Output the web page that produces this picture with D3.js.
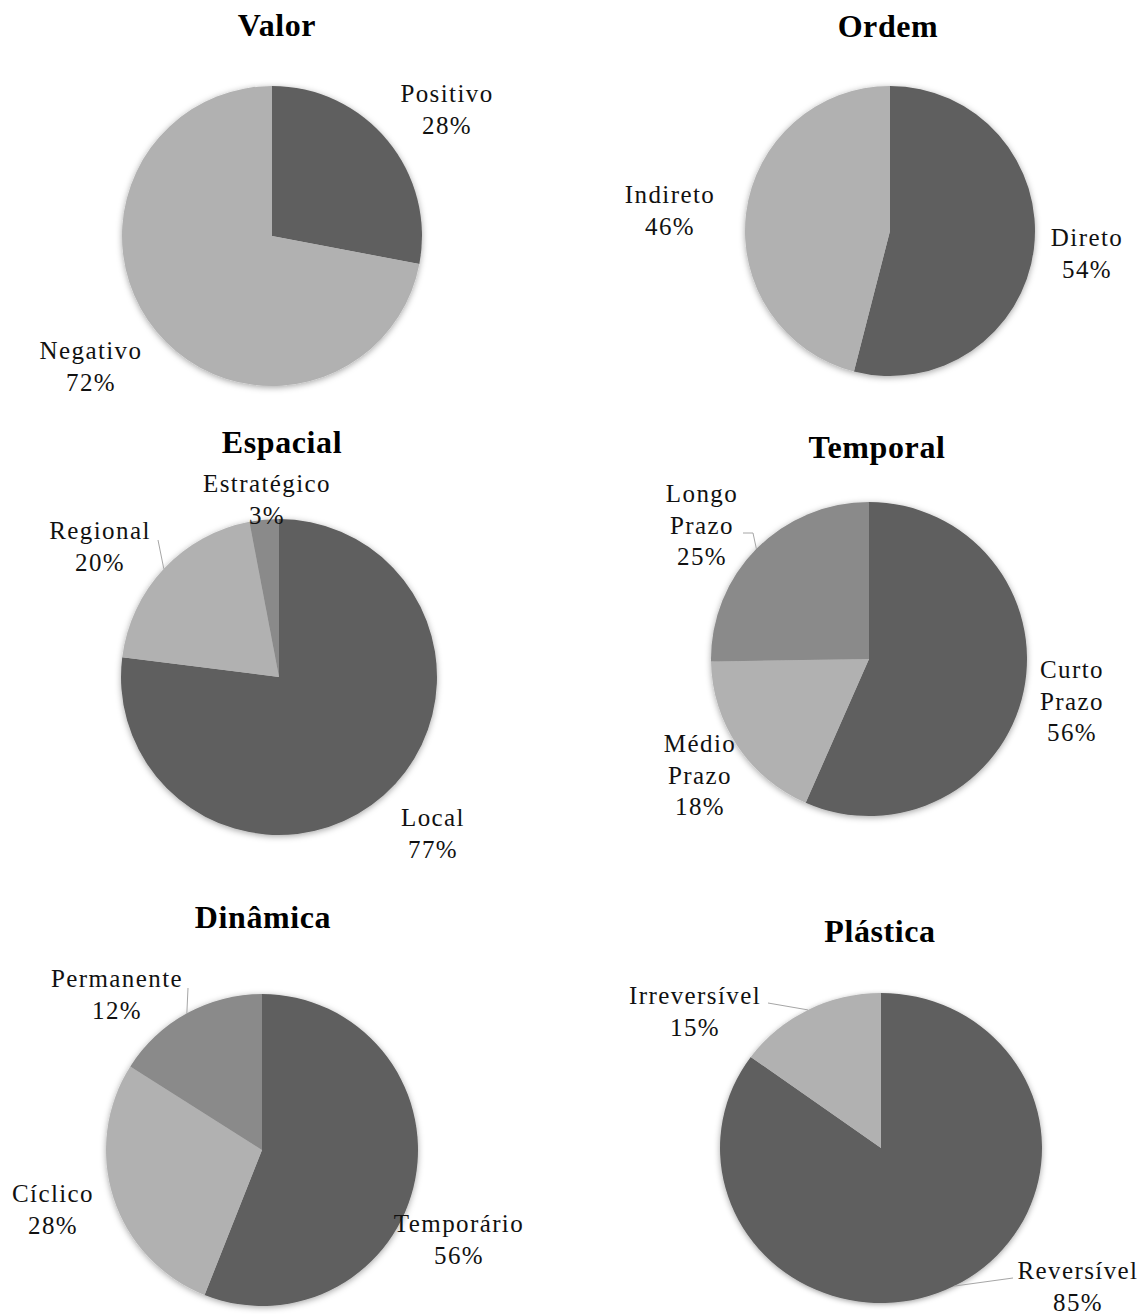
<!DOCTYPE html>
<html>
<head>
<meta charset="utf-8">
<script src="https://cdn.jsdelivr.net/npm/d3@7"></script>
<style>
  html, body { margin: 0; padding: 0; background: #ffffff; }
  svg { display: block; }
</style>
</head>
<body>
<svg id="chart" width="1148" height="1314"></svg>
<script>
// ---------- DATA ----------
const chartTitles = ["Valor", "Ordem", "Espacial", "Temporal", "Dinâmica", "Plástica"];

const valorCategories = ["Positivo", "Negativo"];
const valorValues = [28, 72];
const valorLabels = ["28%", "72%"];

const ordemCategories = ["Direto", "Indireto"];
const ordemValues = [54, 46];
const ordemLabels = ["54%", "46%"];

const espacialCategories = ["Local", "Regional", "Estratégico"];
const espacialValues = [77, 20, 3];
const espacialLabels = ["77%", "20%", "3%"];

const temporalCategories = ["Curto Prazo", "Médio Prazo", "Longo Prazo"];
const temporalValues = [56, 18, 25];
const temporalLabels = ["56%", "18%", "25%"];

const dinamicaCategories = ["Temporário", "Cíclico", "Permanente"];
const dinamicaValues = [56, 28, 16];
const dinamicaLabels = ["56%", "28%", "12%"];

const plasticaCategories = ["Reversível", "Irreversível"];
const plasticaValues = [85, 15];
const plasticaLabels = ["85%", "15%"];

// ---------- STYLE / LAYOUT ----------
const DARK = "#5f5f5f", LIGHT = "#b1b1b1", MID = "#8a8a8a";

const layout = [
  { cx: 272, cy: 236, rx: 150, ry: 150, titleX: 277, titleY: 36, colors: [DARK, LIGHT],
    labels: [[175, -142], [-181, 115]], leaders: [null, null] },
  { cx: 890, cy: 231, rx: 145, ry: 145, titleX: 888, titleY: 37, colors: [DARK, LIGHT],
    labels: [[197, 7], [-220, -36]], leaders: [null, null] },
  { cx: 279, cy: 677, rx: 158, ry: 158, titleX: 282, titleY: 453, colors: [DARK, LIGHT, MID],
    labels: [[154, 141], [-179, -146], [-12, -193]], leaders: [null, [[-121, -137]], null] },
  { cx: 869, cy: 659, rx: 158, ry: 157, titleX: 877, titleY: 458, colors: [DARK, LIGHT, MID],
    labels: [[203, 11], [-169, 85], [-167, -165]], leaders: [null, null, [[-126, -126], [-116, -126]]] },
  { cx: 262, cy: 1150, rx: 156, ry: 156, titleX: 263, titleY: 928, colors: [DARK, LIGHT, MID],
    labels: [[197, 74], [-209, 44], [-145, -171]], leaders: [null, null, [[-74, -162]]] },
  { cx: 881, cy: 1148, rx: 161, ry: 155, titleX: 880, titleY: 942, colors: [DARK, LIGHT],
    labels: [[197, 123], [-186, -152]], leaders: [[[132, 130]], [[-113, -145]]] }
];

const charts = [
  { cats: valorCategories, vals: valorValues, pcts: valorLabels },
  { cats: ordemCategories, vals: ordemValues, pcts: ordemLabels },
  { cats: espacialCategories, vals: espacialValues, pcts: espacialLabels },
  { cats: temporalCategories, vals: temporalValues, pcts: temporalLabels },
  { cats: dinamicaCategories, vals: dinamicaValues, pcts: dinamicaLabels },
  { cats: plasticaCategories, vals: plasticaValues, pcts: plasticaLabels }
];

// ---------- DRAW ----------
const svg = d3.select("#chart");
const defs = svg.append("defs");
const filt = defs.append("filter").attr("id", "shadow")
  .attr("x", "-20%").attr("y", "-20%").attr("width", "140%").attr("height", "140%");
filt.append("feDropShadow").attr("dx", 0).attr("dy", 1.5)
  .attr("stdDeviation", 3).attr("flood-color", "#000").attr("flood-opacity", 0.35);

const pie = d3.pie().sort(null).value(d => d);
const lineH = 31.5;
const FONT = "'Liberation Serif', 'Times New Roman', serif";

charts.forEach((c, i) => {
  const L = layout[i];
  const g = svg.append("g");

  // title
  g.append("text")
    .attr("x", L.titleX).attr("y", L.titleY)
    .attr("text-anchor", "middle")
    .attr("font-family", FONT)
    .attr("font-weight", "bold")
    .attr("font-size", 32)
    .attr("letter-spacing", 0.6)
    .attr("fill", "#000")
    .text(chartTitles[i]);

  const arcs = pie(c.vals);
  const arc = d3.arc().innerRadius(0).outerRadius(L.rx);
  const pg = g.append("g")
    .attr("transform", `translate(${L.cx},${L.cy}) scale(1,${L.ry / L.rx})`)
    .attr("filter", "url(#shadow)");
  pg.selectAll("path").data(arcs).join("path")
    .attr("d", arc)
    .attr("fill", (d, j) => L.colors[j]);

  // leaders
  arcs.forEach((d, j) => {
    const pts = L.leaders[j];
    if (!pts) return;
    const mid = (d.startAngle + d.endAngle) / 2;
    const end = [L.cx + L.rx * Math.sin(mid), L.cy - L.ry * Math.cos(mid)];
    const all = pts.map(p => [L.cx + p[0], L.cy + p[1]]).concat([end]);
    g.append("path")
      .attr("d", d3.line()(all))
      .attr("fill", "none")
      .attr("stroke", "#a6a6a6")
      .attr("stroke-width", 1);
  });

  // labels
  arcs.forEach((d, j) => {
    const lines = c.cats[j].split(" ").concat([c.pcts[j]]);
    const [dx, dy] = L.labels[j];
    const t = g.append("text")
      .attr("text-anchor", "middle")
      .attr("font-family", FONT)
      .attr("font-size", 25)
      .attr("letter-spacing", 1.4)
      .attr("fill", "#111");
    lines.forEach((ln, k) => {
      t.append("tspan")
        .attr("x", L.cx + dx)
        .attr("y", L.cy + dy + 8 + k * lineH)
        .text(ln);
    });
  });
});
</script>
</body>
</html>
